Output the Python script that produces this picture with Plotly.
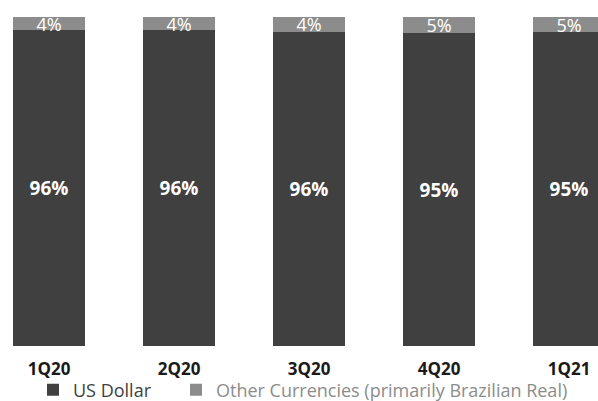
import plotly.graph_objects as go

quarters = ["1Q20", "2Q20", "3Q20", "4Q20", "1Q21"]
us_dollar = [96.0, 96.0, 95.5, 95.1, 95.3]
other = [4.0, 4.0, 4.5, 4.9, 4.7]
us_labels = ["96%", "96%", "96%", "95%", "95%"]
other_labels = ["4%", "4%", "4%", "5%", "5%"]

DARK = "#404040"
GREY = "#8c8c8c"
FONT = "Open Sans"

fig = go.Figure()
fig.add_trace(go.Bar(
    x=quarters, y=us_dollar, name="US Dollar", legend="legend",
    marker=dict(color=DARK, line=dict(width=0)),
    text=us_labels, textposition="inside", insidetextanchor="middle",
    textfont=dict(family=FONT, size=19, color="white", weight="bold"),
    constraintext="none",
))
fig.add_trace(go.Bar(
    x=quarters, y=other, name="Other Currencies (primarily Brazilian Real)", legend="legend2",
    marker=dict(color=GREY, line=dict(width=0)),
    text=other_labels, textposition="inside", insidetextanchor="middle",
    textfont=dict(family=FONT, size=18, color="white"),
    constraintext="none",
))

leg_common = dict(orientation="h", y=-0.134, yanchor="middle", xanchor="left",
                  itemwidth=30, bgcolor="rgba(0,0,0,0)")

fig.update_layout(
    barmode="stack",
    bargap=0.446,
    width=598, height=401,
    margin=dict(l=0, r=0, t=17, b=55, autoexpand=False),
    paper_bgcolor="white", plot_bgcolor="white",
    showlegend=True,
    legend=dict(x=33 / 598, font=dict(family=FONT, size=18, color=DARK), **leg_common),
    legend2=dict(x=176 / 598, font=dict(family=FONT, size=18, color=GREY), **leg_common),
    xaxis=dict(range=[-0.377, 4.223], showgrid=False, zeroline=False, showline=False,
               ticks="", ticklabelstandoff=11, automargin=False,
               tickfont=dict(family=FONT, size=17, color="#1a1a1a", weight="bold")),
    yaxis=dict(range=[0, 100], visible=False),
)

fig.write_html("out.html")
